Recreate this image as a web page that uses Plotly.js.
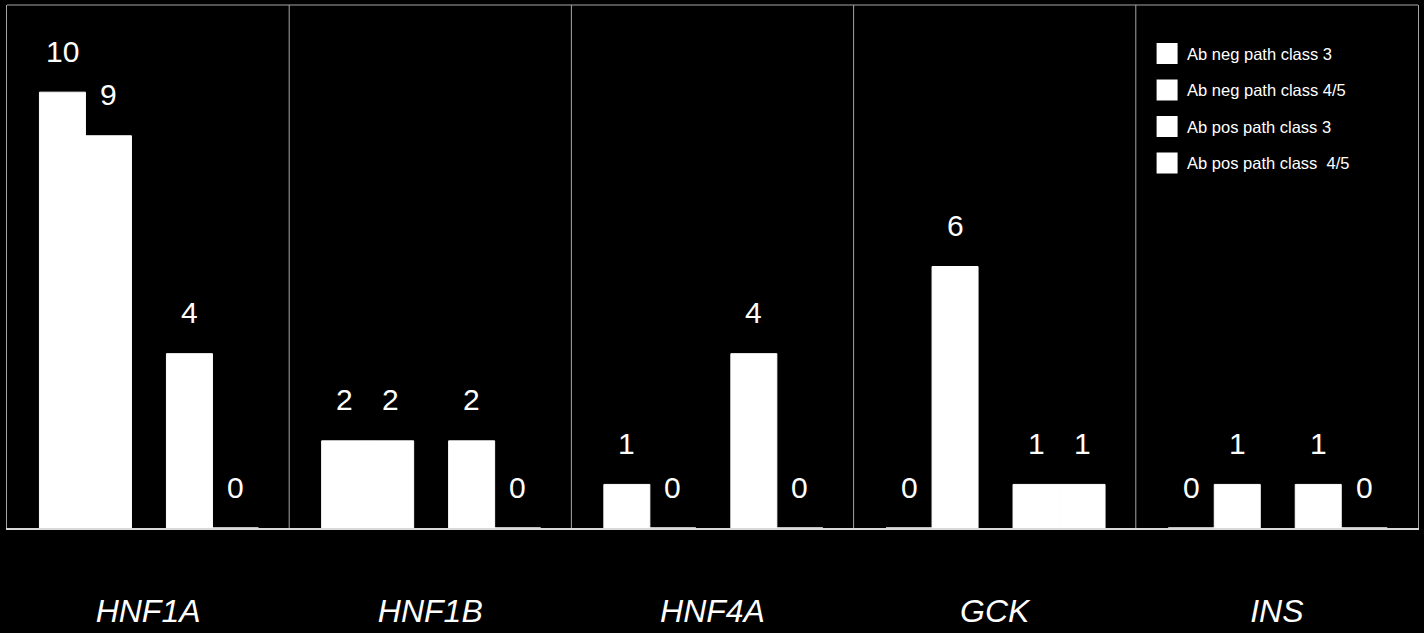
<!DOCTYPE html>
<html><head><meta charset="utf-8">
<script src="https://cdn.plot.ly/plotly-3.0.1.min.js"></script>
<style>html,body{margin:0;padding:0;background:#000;}#chart{width:1424px;height:633px;}</style>
</head><body><div id="chart"></div>
<script>
const genes = ['HNF1A', 'HNF1B', 'HNF4A', 'GCK', 'INS'];
const seriesNames = ['Ab neg path class 3', 'Ab neg path class 4/5', 'Ab pos path class 3', 'Ab pos path class  4/5'];
const abNegClass3 = [10, 2, 1, 0, 0];
const abNegClass45 = [9, 2, 0, 6, 1];
const abPosClass3 = [4, 2, 4, 1, 1];
const abPosClass45 = [0, 0, 0, 1, 0];

const series = [abNegClass3, abNegClass45, abPosClass3, abPosClass45];
const offsets = [-0.385, -0.222, 0.065, 0.228];
const barWidth = 0.163;
const catIdx = genes.map((g, i) => i);
const FONT = 'Liberation Sans, Arial, sans-serif';

const traces = [];
series.forEach((vals, k) => {
  traces.push({
    type: 'bar', x: catIdx, y: vals, offset: offsets[k], width: barWidth,
    marker: {color: '#ffffff', line: {color: '#ffffff', width: 1}},
    showlegend: false, hoverinfo: 'none', name: seriesNames[k]
  });
});
series.forEach((vals, k) => {
  traces.push({
    type: 'scatter', mode: 'markers', x: [null], y: [null], name: seriesNames[k],
    legendgroup: 'g' + k,
    marker: {symbol: 'square', size: 16, color: '#ffffff', line: {color: '#ffffff', width: 5}},
    hoverinfo: 'none'
  });
});

const annotations = [];
series.forEach((vals, k) => {
  vals.forEach((v, i) => {
    annotations.push({
      x: i + offsets[k] + barWidth / 2, y: v, xref: 'x', yref: 'y',
      text: String(v), showarrow: false, yanchor: 'middle', xanchor: 'center',
      yshift: 41, font: {family: FONT, size: 30, color: '#ffffff'}
    });
  });
});

const shapes = [];
for (let i = 0; i < genes.length - 1; i++) {
  shapes.push({type: 'line', xref: 'x', yref: 'paper', x0: i + 0.5, x1: i + 0.5, y0: 0, y1: 1,
    line: {color: '#a6a6a6', width: 1}});
}
shapes.push({type: 'line', xref: 'paper', yref: 'paper', x0: 0, x1: 1, y0: 1, y1: 1,
  line: {color: '#a6a6a6', width: 1}});

const layout = {
  width: 1424, height: 633,
  paper_bgcolor: '#000000', plot_bgcolor: '#000000',
  margin: {l: 7, r: 6, t: 5, b: 105},
  barmode: 'overlay',
  font: {family: FONT, color: '#ffffff'},
  xaxis: {
    range: [-0.5, 4.5], tickvals: catIdx, ticktext: genes,
    showgrid: false, zeroline: false, showline: true, linecolor: '#d9d9d9', linewidth: 2,
    ticks: '', tickfont: {family: FONT, size: 32, color: '#ffffff', style: 'italic'},
    ticklabelstandoff: 54, fixedrange: true
  },
  yaxis: {
    range: [0, 12], showgrid: false, zeroline: false, showticklabels: false,
    showline: true, mirror: true, linecolor: '#a6a6a6', linewidth: 1, ticks: '', fixedrange: true
  },
  showlegend: true,
  legend: {
    x: 0.808, y: 0.94, xanchor: 'left', yanchor: 'top', xref: 'paper', yref: 'paper',
    font: {family: FONT, size: 16.5, color: '#ffffff'}, bgcolor: 'rgba(0,0,0,0)',
    traceorder: 'grouped', tracegroupgap: 12, borderwidth: 0
  },
  annotations: annotations,
  shapes: shapes
};

Plotly.newPlot('chart', traces, layout, {displayModeBar: false, staticPlot: true});
</script>
</body></html>
